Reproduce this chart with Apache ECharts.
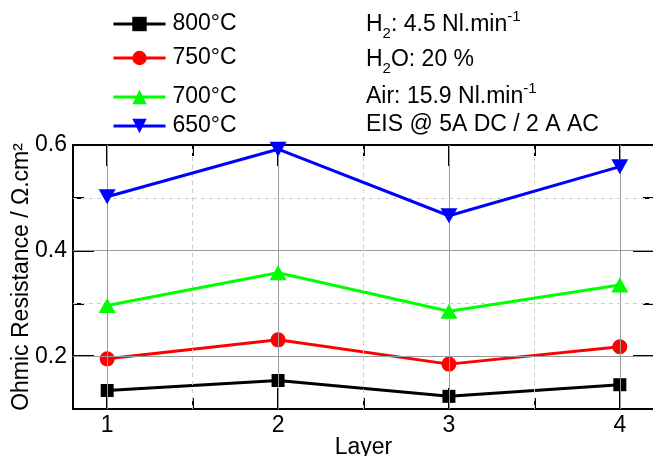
<!DOCTYPE html>
<html>
<head>
<meta charset="utf-8">
<script src="https://cdn.jsdelivr.net/npm/echarts@6/dist/echarts.min.js"></script>
<style>
  html, body { margin: 0; padding: 0; background: #fff; }
  #chart { width: 653px; height: 456px; }
</style>
</head>
<body>
<div id="chart"></div>
<script>
// 数据
const layers = [1, 2, 3, 4]
const seriesNames = ['800°C', '750°C', '700°C', '650°C']
const r800 = [0.135, 0.154, 0.124, 0.146]
const r750 = [0.195, 0.231, 0.185, 0.218]
const r700 = [0.296, 0.358, 0.285, 0.335]
const r650 = [0.502, 0.592, 0.466, 0.559]
const xMajorTicks = [1, 2, 3, 4]
const xMinorTicks = [1.5, 2.5, 3.5]
const yMajorTicks = [0.2, 0.4, 0.6]
const yMinorTicks = [0.3, 0.5]

const FONT = '"Liberation Sans", Arial, sans-serif'
const colors = ['#000000', '#ff0000', '#00ff00', '#0000ff']
const symbols = ['rect', 'circle', 'triangle', 'triangle']
const rotates = [0, 0, 0, 180]
const legendRows = [24, 58, 97, 126]

function pairs(ys) {
  return layers.map((x, i) => [x, ys[i]])
}

// 坐标轴（刻度朝内，上下左右各一套）
function xAxis(position, ticks, len, main) {
  return {
    type: 'value',
    position: position,
    min: 0.8,
    max: 4.2,
    name: main ? 'Layer' : '',
    nameLocation: 'middle',
    nameGap: 27,
    nameMoveOverlap: false,
    nameTextStyle: { color: '#000', fontSize: 23, fontFamily: FONT },
    axisLine: { show: true, onZero: false, lineStyle: { color: '#000', width: 2 } },
    axisTick: { show: true, inside: true, length: len, customValues: ticks, lineStyle: { color: '#000', width: 2 } },
    axisLabel: {
      show: main,
      customValues: xMajorTicks,
      margin: 5,
      color: '#000',
      fontSize: 23,
      fontFamily: FONT
    },
    splitLine: { show: false }
  }
}

function yAxis(position, ticks, len, main) {
  return {
    type: 'value',
    position: position,
    min: 0.1,
    max: 0.6,
    name: main ? 'Ohmic Resistance / Ω.cm²' : '',
    nameLocation: 'middle',
    nameGap: 40,
    nameMoveOverlap: false,
    nameTextStyle: { color: '#000', fontSize: 23, fontFamily: FONT },
    axisLine: { show: true, onZero: false, lineStyle: { color: '#000', width: 2 } },
    axisTick: { show: true, inside: true, length: len, customValues: ticks, lineStyle: { color: '#000', width: 2 } },
    axisLabel: {
      show: main,
      customValues: yMajorTicks,
      margin: 6,
      color: '#000',
      fontSize: 23,
      fontFamily: FONT,
      formatter: v => v.toFixed(1)
    },
    splitLine: { show: false }
  }
}

// 网格线
const gridSolid = { color: '#9a9a9a', width: 1, type: 'solid' }
const gridDash = { color: '#cccccc', width: 1, type: [4, 4] }
const gridLines = []
xMajorTicks.forEach(v => gridLines.push({ xAxis: v, lineStyle: gridSolid }))
xMinorTicks.forEach(v => gridLines.push({ xAxis: v, lineStyle: gridDash }))
yMajorTicks.filter(v => v < 0.6).forEach(v => gridLines.push({ yAxis: v, lineStyle: gridSolid }))
yMinorTicks.forEach(v => gridLines.push({ yAxis: v, lineStyle: gridDash }))

const allData = [r800, r750, r700, r650]
const series = [{
  type: 'line',
  name: 'grid',
  data: [],
  z: 1,
  silent: true,
  markLine: {
    silent: true,
    symbol: ['none', 'none'],
    label: { show: false },
    animation: false,
    data: gridLines
  }
}]
seriesNames.forEach((name, i) => {
  series.push({
    type: 'line',
    name: name,
    data: pairs(allData[i]),
    z: 3 + i,
    clip: false,
    symbol: symbols[i],
    symbolRotate: rotates[i],
    symbolSize: symbols[i] === 'rect' ? 13 : (symbols[i] === 'circle' ? 15 : [17, 15]),
    showAllSymbol: true,
    color: colors[i],
    lineStyle: { color: colors[i], width: 3 },
    itemStyle: { color: colors[i] }
  })
})

const legends = seriesNames.map((name, i) => ({
  data: [name],
  left: 112,
  top: legendRows[i] - 13,
  padding: 0,
  itemWidth: 52,
  itemHeight: 18,
  selectedMode: false,
  lineStyle: { width: 3 },
  textStyle: { color: '#000', fontSize: 23, fontFamily: FONT, lineHeight: 26, padding: [0, 0, 0, 2] }
}))

// 右上角实验条件
const noteRich = {
  n: { fontSize: 23, fontFamily: FONT, color: '#000', lineHeight: 32 },
  sub: { fontSize: 15, fontFamily: FONT, color: '#000', lineHeight: 15, verticalAlign: 'bottom' },
  sup: { fontSize: 15, fontFamily: FONT, color: '#000', lineHeight: 15, verticalAlign: 'top' }
}
const notes = [
  '{n|H}{sub|2}{n|: 4.5 Nl.min}{sup|-1}',
  '{n|H}{sub|2}{n|O: 20 %}',
  '{n|Air: 15.9 Nl.min}{sup|-1}',
  '{n|EIS @ 5A DC / 2 A AC}'
]
const noteRows = [25, 60, 97, 125]

const myChart = echarts.init(document.getElementById('chart'), null, { renderer: 'canvas' })
myChart.setOption({
  animation: false,
  backgroundColor: '#fff',
  grid: { left: 73, right: -1, top: 145, bottom: 47, containLabel: false, outerBoundsMode: 'none' },
  legend: legends,
  xAxis: [
    xAxis('bottom', xMajorTicks, 21, true),
    xAxis('bottom', xMinorTicks, 11, false),
    xAxis('top', xMajorTicks, 21, false),
    xAxis('top', xMinorTicks, 11, false)
  ],
  yAxis: [
    yAxis('left', yMajorTicks, 21, true),
    yAxis('left', yMinorTicks, 11, false),
    yAxis('right', yMajorTicks, 21, false),
    yAxis('right', yMinorTicks, 11, false)
  ],
  graphic: notes.map((t, i) => ({
    type: 'text',
    x: 366,
    y: noteRows[i],
    silent: true,
    style: { text: t, rich: noteRich, verticalAlign: 'middle', align: 'left' }
  })),
  series: series
})
</script>
</body>
</html>
